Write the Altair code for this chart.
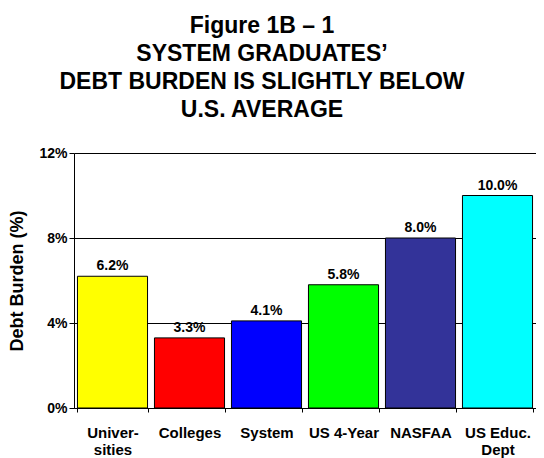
import altair as alt
import pandas as pd

categories = ["Univer-|sities", "Colleges", "System", "US 4-Year", "NASFAA", "US Educ.|Dept"]
values = [6.2, 3.3, 4.1, 5.8, 8.0, 10.0]
labels = ["6.2%", "3.3%", "4.1%", "5.8%", "8.0%", "10.0%"]
colors = ["#FFFF00", "#FF0000", "#0000FF", "#00FF00", "#333399", "#00FFFF"]
title_lines = ["Figure 1B \u2013 1", "SYSTEM GRADUATES\u2019", "DEBT BURDEN IS SLIGHTLY BELOW", "U.S. AVERAGE"]
y_ticks = [0, 4, 8, 12]

df = pd.DataFrame({"cat": categories, "val": values, "lab": labels})
FONT = "Liberation Sans"

x_enc = alt.X("cat:N", sort=categories, title=None,
              scale=alt.Scale(paddingInner=0.09, paddingOuter=0.045),
              axis=alt.Axis(labelExpr="split(datum.label, '|')", labelAngle=0,
                            labelFont=FONT, labelFontSize=15, labelFontWeight="bold",
                            labelColor="black", labelLineHeight=17, labelPadding=13,
                            tickBand="extent", tickSize=4, tickColor="black",
                            domainColor="black", grid=False))

bars = alt.Chart(df).mark_bar(stroke="black", strokeWidth=1).encode(
    x=x_enc,
    y=alt.Y("val:Q", scale=alt.Scale(domain=[0, 12], nice=False),
            title="Debt Burden (%)",
            axis=alt.Axis(values=y_ticks, labelExpr="datum.value + '%'",
                          labelFont=FONT, labelFontSize=14, labelFontWeight="bold",
                          labelColor="black", tickSize=5, tickColor="black",
                          domainColor="black", grid=True, gridColor="black",
                          gridOpacity=1, gridWidth=1,
                          titleFont=FONT, titleFontSize=18, titleFontWeight="bold",
                          titleColor="black", titlePadding=12)),
    color=alt.Color("cat:N", sort=categories,
                    scale=alt.Scale(domain=categories, range=colors), legend=None),
)

text = alt.Chart(df).mark_text(font=FONT, fontSize=14, fontWeight="bold",
                               baseline="alphabetic", dy=-6, color="black").encode(
    x=alt.X("cat:N", sort=categories),
    y="val:Q",
    text="lab:N",
)

chart = alt.layer(bars, text).properties(
    width=462, height=255,
    title=alt.TitleParams(text=title_lines, font=FONT, fontSize=23, fontWeight="bold",
                          color="black", lineHeight=28, anchor="middle", offset=24, dx=-43),
    autosize=alt.AutoSizeParams(type="none"),
    padding={"left": 66, "top": 145, "right": 0, "bottom": 50},
).configure_view(stroke="black", strokeWidth=1).configure(background="white")

chart.save("out.html", embed_options={"renderer": "svg", "actions": False})
